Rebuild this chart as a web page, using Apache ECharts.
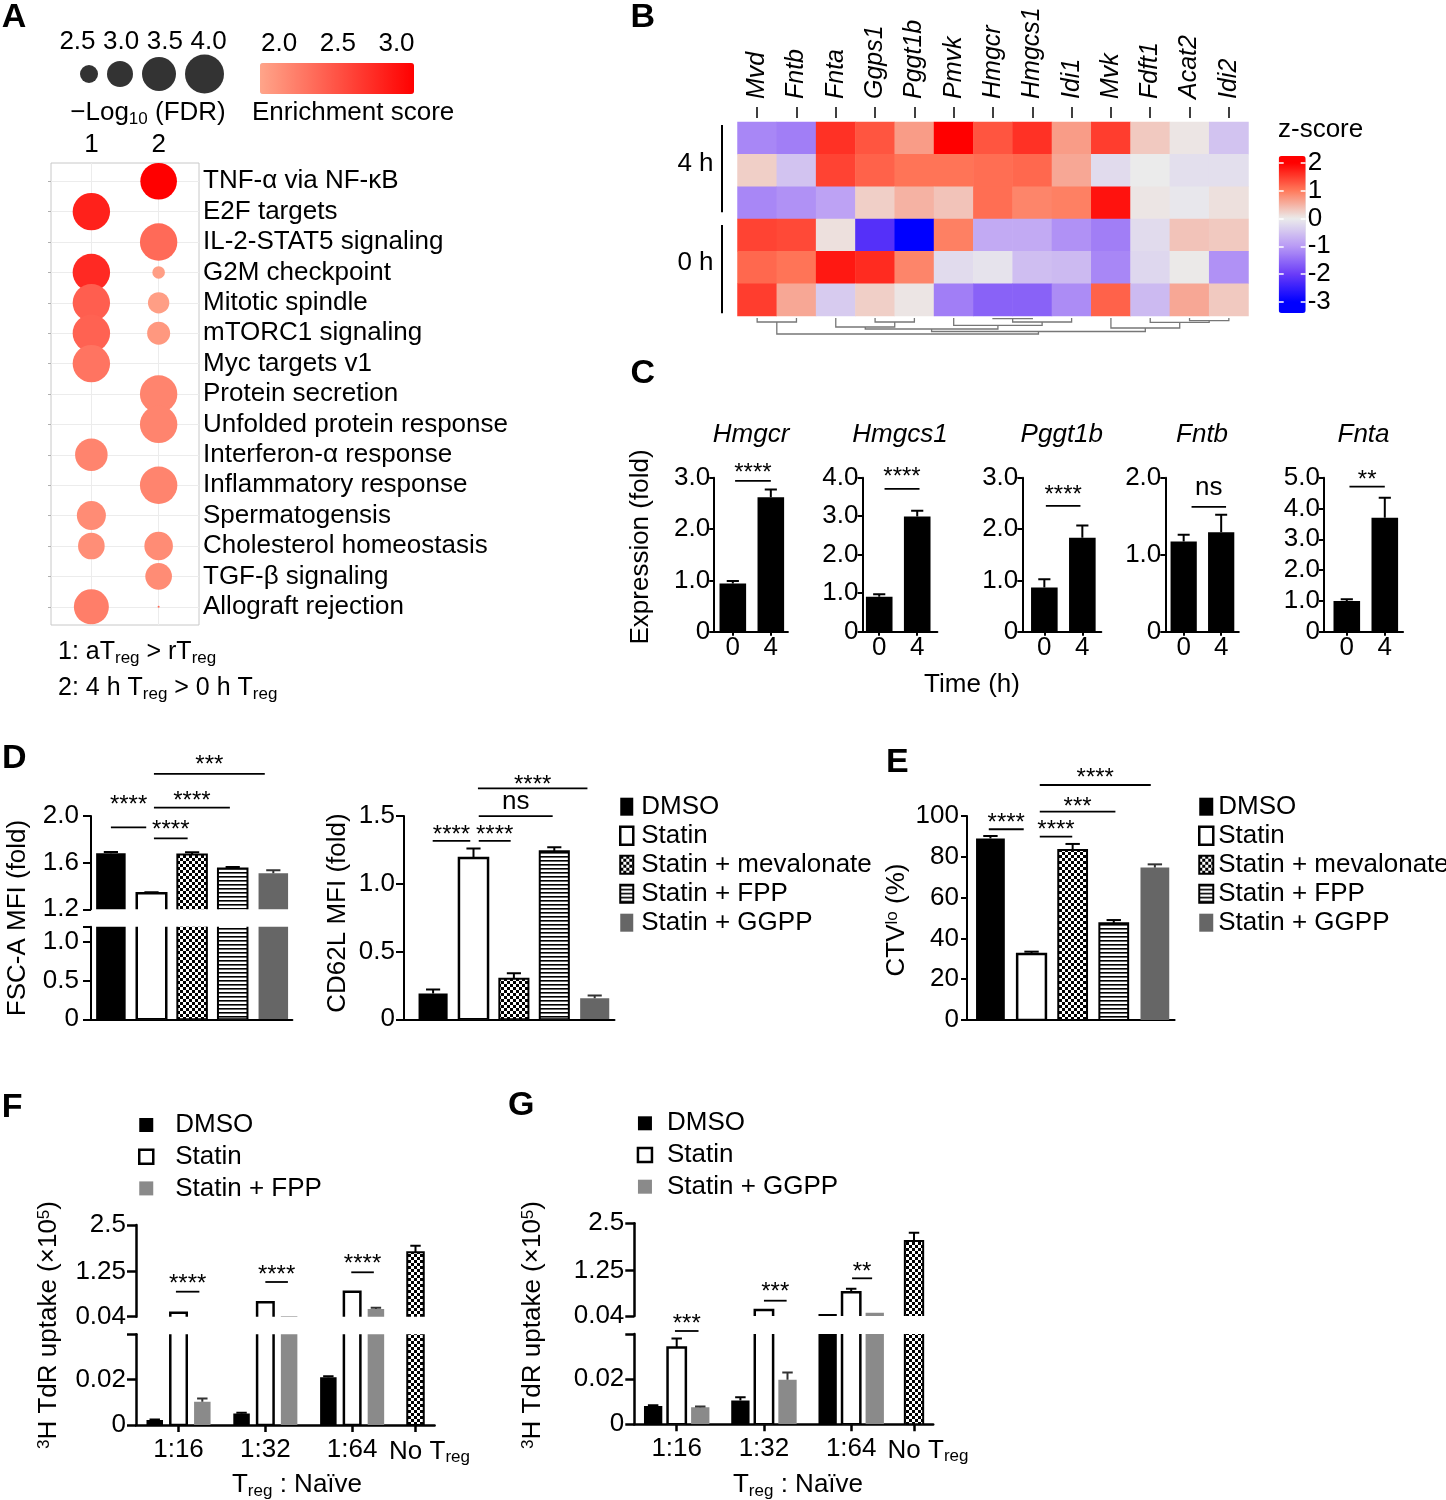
<!DOCTYPE html>
<html>
<head>
<meta charset="utf-8">
<title>Figure</title>
<script src="https://cdn.jsdelivr.net/npm/echarts@6.0.0/dist/echarts.min.js"></script>
<style>
html,body{margin:0;padding:0;background:#fff;}
#chart{width:1446px;height:1500px;}
</style>
</head>
<body>
<div id="chart"></div>
<script>
// ======================= DATA =======================
// Panel A – hallmark pathway enrichment (bubble plot)
const pathways = ['TNF-α via NF-κB','E2F targets','IL-2-STAT5 signaling','G2M checkpoint','Mitotic spindle','mTORC1 signaling','Myc targets v1','Protein secretion','Unfolded protein response','Interferon-α response','Inflammatory response','Spermatogensis','Cholesterol homeostasis','TGF-β signaling','Allograft rejection'];
const comparisons = ['1', '2'];
const negLogFdr1 = [null, 3.84, null, 3.84, 3.84, 3.84, 3.84, null, null, 3.41, null, 3.19, 3.04, null, 3.6];
const enrich1    = [null, 2.89, null, 2.82, 2.4, 2.37, 2.23, null, null, 2.1, null, 2.04, 2.02, null, 2.15];
const negLogFdr2 = [3.76, null, 3.84, 2.16, 2.71, 2.81, null, 3.84, 3.84, null, 3.84, null, 3.16, 3.04, 1.5];
const enrich2    = [3.15, null, 2.31, 1.89, 1.89, 1.94, null, 2.1, 2.1, null, 2.1, null, 2.04, 2.04, 2.3];
const fdrLegendValues = [2.5, 3.0, 3.5, 4.0];
const enrichTicks = [2.0, 2.5, 3.0];

// Panel B – z-score heatmap
const genes = ['Mvd','Fntb','Fnta','Ggps1','Pggt1b','Pmvk','Hmgcr','Hmgcs1','Idi1','Mvk','Fdft1','Acat2','Idi2'];
const sampleGroups = ['4 h', '0 h'];
const zRows = [
  [-1.2,-1.3, 1.6, 1.3, 0.7, 2.0, 1.3, 1.6, 0.7, 1.5, 0.3, 0.05,-0.5],
  [ 0.25,-0.5, 1.45, 1.2, 1.05, 1.05, 1.1, 1.15, 0.6,-0.2, 0.0,-0.15,-0.15],
  [-1.2,-1.1,-0.9, 0.25, 0.5, 0.35, 1.1, 0.9, 0.95, 1.85, 0.05,-0.05, 0.1],
  [ 1.45, 1.4, 0.1,-2.2,-3.0, 0.95,-0.8,-0.8,-1.1,-1.3,-0.2, 0.35, 0.3],
  [ 1.15, 1.05, 1.8, 1.65, 0.9,-0.2,-0.1,-0.55,-0.6,-1.2,-0.25, 0.02,-1.1],
  [ 1.5, 0.6,-0.4, 0.25, 0.05,-1.3,-1.6,-1.6,-1.15, 1.2,-0.6, 0.6, 0.3]
];
const zTicks = [-3, -2, -1, 0, 1, 2];
// column dendrogram: [childA, childB, height]; leaves 0..12, merged nodes numbered from 13
const dendroMerges = [[0,1,4],[3,4,4],[2,14,9],[6,7,0.7],[16,8,4],[5,17,7.3],[15,18,11],[11,12,2.7],[10,20,4.3],[9,21,10],[19,22,13.5],[13,23,16]];

// Panel C – qPCR
const cGenes = ['Hmgcr','Hmgcs1','Pggt1b','Fntb','Fnta'];
const cTimes = ['0', '4'];
const cMean0h = [0.94, 0.91, 0.86, 1.17, 1.00];
const cErr0h  = [0.05, 0.06, 0.16, 0.09, 0.05];
const cMean4h = [2.62, 2.99, 1.83, 1.29, 3.70];
const cErr4h  = [0.15, 0.15, 0.24, 0.23, 0.65];
const cYMax   = [3, 4, 3, 2, 5];
const cSigLabel = ['****', '****', '****', 'ns', '**'];

// Panels D / E
const treatments = ['DMSO', 'Statin', 'Statin + mevalonate', 'Statin + FPP', 'Statin + GGPP'];
const fscMean   = [1.68, 1.337, 1.67, 1.55, 1.51];
const fscErr    = [0.012, 0.01, 0.02, 0.012, 0.025];
const cd62lMean = [0.19, 1.19, 0.30, 1.24, 0.155];
const cd62lErr  = [0.03, 0.07, 0.04, 0.03, 0.02];
const ctvMean   = [89, 32.4, 83.3, 47.4, 74.7];
const ctvErr    = [1.2, 1.1, 3.0, 1.6, 1.6];
const dSig1 = ['****', '****', '****', '***'];
const dSig2 = ['****', '****', 'ns', '****'];
const eSig  = ['****', '****', '***', '****'];

// Panels F / G – suppression assay (3H TdR uptake, x10^5)
const ratios = ['1:16', '1:32', '1:64'];
const noTregLabel = 'No Treg';
const fDmso = [0.0022, 0.0051, 0.0211], fDmsoErr = [0.0002, 0.0003, 0.0004];
const fStatin = [0.147, 0.426, 0.71],   fStatinErr = [0, 0, 0];
const fFpp = [0.0102, 0.05, 0.247],     fFppErr = [0.0015, 0, 0.03];
const fNoTreg = 1.77, fNoTregErr = 0.17;
const gDmso = [0.0081, 0.0105, 0.093], gDmsoErr = [0.0003, 0.0015, 0];
const gStatin = [0.034, 0.2, 0.67],    gStatinErr = [0.004, 0, 0.09];
const gGgpp = [0.0075, 0.0197, 0.128], gGgppErr = [0.0004, 0.0033, 0];
const gNoTreg = 2.03, gNoTregErr = 0.22;
const fSig = ['****', '****', '****'];
const gSig = ['***', '***', '**'];

// ======================= STYLE / HELPERS =======================
const FONT = '"Liberation Sans", Arial, Helvetica, sans-serif';
const BLACK = '#000';

function mkPattern(kind) {
  const c = document.createElement('canvas');
  const g = c.getContext('2d');
  if (kind === 'checker') {
    c.width = 6; c.height = 6;
    g.fillStyle = '#fff'; g.fillRect(0, 0, 6, 6);
    g.fillStyle = '#000'; g.fillRect(0, 0, 3, 3); g.fillRect(3, 3, 3, 3);
  } else {
    c.width = 4; c.height = 4;
    g.fillStyle = '#fff'; g.fillRect(0, 0, 4, 4);
    g.fillStyle = '#000'; g.fillRect(0, 0, 4, 1.6);
  }
  return {image: c, repeat: 'repeat'};
}
const CHECKER = mkPattern('checker');
const STRIPES = mkPattern('stripes');
const STYLE_DE = {
  'DMSO': {fill: '#000'},
  'Statin': {fill: '#fff', stroke: '#000', lineWidth: 2.5},
  'Statin + mevalonate': {fill: CHECKER, stroke: '#000', lineWidth: 2},
  'Statin + FPP': {fill: STRIPES, stroke: '#000', lineWidth: 2},
  'Statin + GGPP': {fill: '#666666'}
};
const STYLE_FG = {
  'DMSO': {fill: '#000'},
  'Statin': {fill: '#fff', stroke: '#000', lineWidth: 2.5},
  'Statin + FPP': {fill: '#8a8a8a'},
  'Statin + GGPP': {fill: '#8a8a8a'},
  'No Treg': {fill: CHECKER, stroke: '#000', lineWidth: 2}
};
const RICH = {
  m:   {fontSize: 26, fontFamily: FONT, color: BLACK, fill: BLACK},
  nt:  {fontSize: 26, fontFamily: FONT, color: BLACK, fill: BLACK, padding: [0, 0, 0, 28]},
  sub: {fontSize: 17, fontFamily: FONT, color: BLACK, fill: BLACK, padding: [12, 0, 0, 0]},
  sup: {fontSize: 17, fontFamily: FONT, color: BLACK, fill: BLACK, padding: [0, 0, 10, 0]}
};
const RICH25 = {
  m:   {fontSize: 25, fontFamily: FONT, color: BLACK, fill: BLACK},
  sub: {fontSize: 17, fontFamily: FONT, color: BLACK, fill: BLACK, padding: [12, 0, 0, 0]}
};
// bubble size scale (−log10 FDR -> radius px), piecewise linear as in the size legend
const SIZE_SCALE = [[2.5, 9], [3.0, 13], [3.5, 17], [4.0, 19.5]];
function bubbleRadius(f) {
  const s = SIZE_SCALE;
  let k = 0;
  while (k < s.length - 2 && f > s[k + 1][0]) k++;
  const a = s[k], b = s[k + 1];
  return Math.max(0.8, a[1] + (b[1] - a[1]) * (f - a[0]) / (b[0] - a[0]));
}
const bubbleDiameter = f => 2 * bubbleRadius(f);

const grids = [], xAxes = [], yAxes = [], series = [], graphics = [], legends = [], visualMaps = [];
function addGrid(g) { grids.push(Object.assign({containLabel: false, outerBoundsMode: 'none', show: false}, g)); return grids.length - 1; }
function addX(a) { xAxes.push(a); return xAxes.length - 1; }
function addY(a) { yAxes.push(a); return yAxes.length - 1; }
function addS(s) { series.push(s); return series.length - 1; }

function axis(type, gi, o) {
  o = o || {};
  const lw = o.lw || 2;
  const a = {
    type: type, gridIndex: gi, show: o.show !== false, position: o.position, inverse: !!o.inverse,
    offset: o.offset || 0, z: o.z || 0, silent: true,
    axisLine: {show: !!o.line, onZero: false, lineStyle: {color: BLACK, width: lw}},
    axisTick: {show: !!o.showTicks, length: o.tickLen || 6, inside: !!o.inside, alignWithLabel: !!o.align,
               lineStyle: {color: o.tickColor || BLACK, width: o.tickW || lw}},
    axisLabel: {show: !!o.showLabels, margin: o.margin == null ? 6 : o.margin, color: BLACK,
                fontSize: o.fs || 26, fontFamily: FONT, fontStyle: o.italic ? 'italic' : 'normal', rotate: o.rotate || 0},
    splitLine: {show: !!o.split, lineStyle: {color: '#ececec', width: 1}}
  };
  if (type === 'value') { a.min = o.min; a.max = o.max; }
  if (type === 'category') { a.axisLabel.interval = 0; }
  if (o.data) a.data = o.data;
  if (o.tickVals) a.axisTick.customValues = o.tickVals;
  if (o.labelVals) a.axisLabel.customValues = o.labelVals;
  if (o.fmt) a.axisLabel.formatter = o.fmt;
  if (o.rich) a.axisLabel.rich = o.rich;
  return a;
}

function gText(x, y, text, o) {
  o = o || {};
  const st = {text: text, fill: BLACK, fontSize: o.fs || 26, fontFamily: FONT,
              fontWeight: o.bold ? 'bold' : 'normal', fontStyle: o.italic ? 'italic' : 'normal',
              align: o.align || 'center', verticalAlign: 'middle', textAlign: o.align || 'center', textVerticalAlign: 'middle'};
  if (o.rich) st.rich = o.rich;
  graphics.push({type: 'text', x: x, y: y, rotation: o.rot || 0, silent: true, z: 20, style: st});
}
function gLine(x1, y1, x2, y2, w, color) {
  graphics.push({type: 'line', silent: true, z: 20, shape: {x1: x1, y1: y1, x2: x2, y2: y2}, style: {stroke: color || BLACK, lineWidth: w || 2}});
}
function legendStyle(s) {
  return {color: s.fill, borderColor: s.stroke || 'rgba(0,0,0,0)', borderWidth: s.lineWidth || 0, opacity: 1};
}

function barRender(widthU, st, segMin) {
  return function (params, api) {
    const x = api.value(0), y = api.value(1);
    if (y <= segMin) return null;            // bar does not reach this axis segment
    const a = api.coord([x - widthU / 2, y]);
    const b = api.coord([x + widthU / 2, 0]);
    const style = {fill: st.fill};
    if (st.stroke) { style.stroke = st.stroke; style.lineWidth = st.lineWidth; } else { style.stroke = null; style.lineWidth = 0; }
    return {type: 'rect', shape: {x: a[0], y: a[1], width: b[0] - a[0], height: b[1] - a[1]}, style: style};
  };
}
function errRender(capU, color, w) {
  return function (params, api) {
    const x = api.value(0), y = api.value(1), e = api.value(2);
    const p0 = api.coord([x, y]), p1 = api.coord([x, y + e]);
    const hw = Math.abs(api.size([capU, 0])[0]) / 2;
    return {type: 'group', children: [
      {type: 'line', shape: {x1: p0[0], y1: p0[1], x2: p1[0], y2: p1[1]}, style: {stroke: color, lineWidth: w}},
      {type: 'line', shape: {x1: p1[0] - hw, y1: p1[1], x2: p1[0] + hw, y2: p1[1]}, style: {stroke: color, lineWidth: w}}
    ]};
  };
}
// significance annotation: [x1, x2, lineY, textY, label]
function sigSeries(xi, yi, items) {
  return {
    type: 'custom', xAxisIndex: xi, yAxisIndex: yi, clip: false, silent: true, z: 6,
    data: items.map(it => [it[0], it[2], it[1], it[3]]),
    renderItem: function (params, api) {
      const it = items[params.dataIndex];
      const a = api.coord([it[0], it[2]]), b = api.coord([it[1], it[2]]);
      const t = api.coord([(it[0] + it[1]) / 2, it[3]]);
      const star = it[4].indexOf('*') >= 0;
      const fs = star ? 24 : 26;
      return {type: 'group', children: [
        {type: 'line', shape: {x1: a[0], y1: a[1], x2: b[0], y2: b[1]}, style: {stroke: BLACK, lineWidth: 1.8}},
        {type: 'text', x: t[0], y: t[1] + (star ? 5.5 : -2), style: {text: it[4], fill: BLACK, fontSize: fs, fontFamily: FONT,
          align: 'center', verticalAlign: 'middle', textAlign: 'center', textVerticalAlign: 'middle'}}
      ]};
    }
  };
}
// generic bar panel (optionally with broken y-axis segments)
function barPanel(p) {
  const out = [];
  p.segs.forEach((s, si) => {
    const g = addGrid({left: p.left, top: s.top, width: p.width, height: s.h});
    const xi = addX(axis('value', g, {min: p.xmin, max: p.xmax, show: !!s.showX, line: true, lw: p.lw,
      tickVals: p.xTicks, showTicks: !!p.xTicks, tickLen: p.xTickLen || 6, labelVals: p.xTicks, showLabels: !!p.xTicks,
      fmt: p.xFmt, rich: p.xRich, margin: p.xMargin}));
    const yi = addY(axis('value', g, {min: s.min, max: s.max, line: true, lw: p.lw, tickVals: s.tickVals, showTicks: true,
      tickLen: p.yTick, labelVals: s.labelVals, showLabels: true, fmt: s.fmt, margin: p.yMargin}));
    p.series.forEach(sr => {
      addS({type: 'custom', name: sr.name, xAxisIndex: xi, yAxisIndex: yi, clip: true, silent: true, z: 2,
        itemStyle: legendStyle(sr.style), data: sr.pts.map(q => [q[0], q[1]]), renderItem: barRender(p.barW, sr.style, s.min)});
      const ep = sr.pts.filter(q => q[2] > 0 && q[1] > s.min);
      if (ep.length) addS({type: 'custom', xAxisIndex: xi, yAxisIndex: yi, clip: true, silent: true, z: 3,
        data: ep, renderItem: errRender(p.capW, sr.errColor || BLACK, p.errW || 2)});
    });
    if (p.sig && p.sig.seg === si) addS(sigSeries(xi, yi, p.sig.items));
    out.push({g: g, xi: xi, yi: yi});
  });
  return out;
}
function addLegend(names, styles, o) {
  legends.push({show: true, orient: 'vertical', left: o.left, top: o.top, itemWidth: o.w, itemHeight: o.h, itemGap: o.gap,
    selectedMode: false, icon: 'rect', padding: 0,
    textStyle: {fontSize: 26, color: BLACK, fontFamily: FONT, padding: [0, 0, 0, o.tp]},
    data: names.map(n => ({name: n, icon: 'rect', itemStyle: legendStyle(styles[n])}))});
}
const fmt1 = v => (v === 0 ? '0' : v.toFixed(1));

// ======================= PANEL A =======================
const rowIdx = pathways.map((_, i) => i);
const gA = addGrid({left: 51, top: 163, width: 148, height: 462, show: true, borderColor: '#c8c8c8', borderWidth: 1});
const xA = addX(axis('value', gA, {min: 0.4, max: 2.6, position: 'top', tickVals: [1, 2], labelVals: [1, 2], showLabels: true,
  margin: 5, split: true, fmt: v => comparisons[Math.round(v) - 1]}));
const yA = addY(axis('value', gA, {min: -0.6, max: 14.6, inverse: true, position: 'right', tickVals: rowIdx, labelVals: rowIdx,
  showLabels: true, margin: 4, split: true, fmt: v => pathways[Math.round(v)]}));
addY(axis('value', gA, {min: -0.6, max: 14.6, inverse: true, position: 'left', tickVals: rowIdx, showTicks: true, tickLen: 3, tickColor: '#b0b0b0', tickW: 1}));
const bubbleData = [];
pathways.forEach((p, i) => {
  if (negLogFdr1[i] != null) bubbleData.push([1, i, negLogFdr1[i], enrich1[i]]);
  if (negLogFdr2[i] != null) bubbleData.push([2, i, negLogFdr2[i], enrich2[i]]);
});
const sBubble = addS({type: 'scatter', name: 'pathways', xAxisIndex: xA, yAxisIndex: yA, data: bubbleData,
  symbolSize: v => bubbleDiameter(v[2]), itemStyle: {opacity: 1}, z: 3, silent: true});

// size legend: labels on an even category axis, circles packed side by side from their radii
const gSL = addGrid({left: 55.6, top: 55, width: 174.8, height: 38});
addX(axis('category', gSL, {data: fdrLegendValues.map(v => v.toFixed(1)), position: 'top', showLabels: true, margin: 0}));
const xSLv = addX(axis('value', gSL, {min: 0, max: 174.8, show: false}));
const ySL = addY(axis('value', gSL, {min: 0, max: 2, show: false}));
const legendRadii = fdrLegendValues.map(bubbleRadius);
const legendCenters = [];
legendRadii.forEach((r, i) => legendCenters.push(i === 0 ? 33.4 : legendCenters[i - 1] + legendRadii[i - 1] + 9 + r));
addS({type: 'scatter', xAxisIndex: xSLv, yAxisIndex: ySL, data: fdrLegendValues.map((v, i) => [legendCenters[i], 1, v]),
  symbolSize: v => bubbleDiameter(v[2]), itemStyle: {color: BLACK}, silent: true});
// enrichment colour bar (labels via a helper axis)
const gEL = addGrid({left: 260, top: 63, width: 154, height: 31});
addX(axis('value', gEL, {min: 1.838, max: 3.149, position: 'top', labelVals: enrichTicks, showLabels: true, margin: 6, fmt: v => v.toFixed(1)}));
addY(axis('value', gEL, {min: 0, max: 1, show: false}));
visualMaps.push({type: 'continuous', seriesIndex: sBubble, dimension: 3, min: 1.838, max: 3.149, orient: 'horizontal',
  left: 260, top: 63, itemWidth: 31, itemHeight: 154, calculable: false, hoverLink: false, padding: 0,
  inRange: {color: ['#ffa58a', '#ff0000']}});
gText(148, 113, '{m|−Log}{sub|10}{m| (FDR)}', {rich: RICH});
gText(252, 113, 'Enrichment score', {align: 'left'});
gText(58, 652, '{m|1: aT}{sub|reg}{m| > rT}{sub|reg}', {align: 'left', rich: RICH25});
gText(58, 688, '{m|2: 4 h T}{sub|reg}{m| > 0 h T}{sub|reg}', {align: 'left', rich: RICH25});

// ======================= PANEL B =======================
const gB = addGrid({left: 737.5, top: 122, width: 511, height: 194});
const xB = addX(axis('category', gB, {data: genes, position: 'top', offset: 4, showTicks: true, align: true, tickLen: 11, tickW: 1.5,
  showLabels: true, rotate: -90, italic: true, fs: 25, margin: 19}));
const yB = addY(axis('category', gB, {data: zRows.map((_, i) => 'r' + i), inverse: true, show: false}));
const hmData = [];
zRows.forEach((row, r) => row.forEach((z, c) => hmData.push([c, r, z])));
const sHM = addS({type: 'heatmap', xAxisIndex: xB, yAxisIndex: yB, data: hmData, silent: true, itemStyle: {borderWidth: 0}, emphasis: {disabled: true}});
const zAnchors = [[-3, [0, 0, 255]], [-2, [106, 60, 248]], [-1, [184, 154, 245]], [0, [235, 235, 235]], [1, [255, 122, 92]], [2, [255, 0, 0]]];
function zColor(v) {
  if (v <= zAnchors[0][0]) v = zAnchors[0][0];
  if (v >= zAnchors[zAnchors.length - 1][0]) v = zAnchors[zAnchors.length - 1][0];
  for (let k = 0; k < zAnchors.length - 1; k++) {
    const a = zAnchors[k], b = zAnchors[k + 1];
    if (v >= a[0] && v <= b[0]) {
      const t = (v - a[0]) / (b[0] - a[0]);
      const c = a[1].map((ch, j) => Math.round(ch + (b[1][j] - ch) * t));
      return 'rgb(' + c.join(',') + ')';
    }
  }
  return '#ebebeb';
}
const zMin = -3.4, zMax = 2.25, zStops = [];
for (let k = 0; k <= 113; k++) zStops.push(zColor(zMin + (zMax - zMin) * k / 113));
visualMaps.push({type: 'continuous', seriesIndex: sHM, dimension: 2, min: zMin, max: zMax, orient: 'vertical',
  left: 1278.7, top: 156, itemWidth: 27, itemHeight: 157, calculable: false, hoverLink: false, padding: 0,
  inRange: {color: zStops}});
const gCB = addGrid({left: 1278.7, top: 156, width: 27, height: 157});
addX(axis('value', gCB, {min: 0, max: 1, show: false}));
addY(axis('value', gCB, {min: zMin, max: zMax, position: 'right', z: 10, tickVals: zTicks, showTicks: true, inside: true, tickLen: 5,
  tickColor: '#fff', tickW: 1.5, labelVals: zTicks, showLabels: true, margin: 2, fmt: v => String(v)}));
addY(axis('value', gCB, {min: zMin, max: zMax, position: 'left', z: 10, tickVals: zTicks, showTicks: true, inside: true, tickLen: 5,
  tickColor: '#fff', tickW: 1.5}));
gText(1278, 130, 'z-score', {align: 'left'});
// dendrogram
const gDn = addGrid({left: 737.5, top: 318, width: 511, height: 17});
const xDn = addX(axis('value', gDn, {min: -0.5, max: genes.length - 0.5, show: false}));
const yDn = addY(axis('value', gDn, {min: 0, max: 17, inverse: true, show: false}));
const nodeX = genes.map((_, i) => i), nodeH = genes.map(() => 0);
dendroMerges.forEach(m => { nodeX.push((nodeX[m[0]] + nodeX[m[1]]) / 2); nodeH.push(m[2]); });
addS({type: 'custom', xAxisIndex: xDn, yAxisIndex: yDn, clip: false, silent: true, data: dendroMerges.map(m => [nodeX[m[0]], m[2], nodeX[m[1]]]),
  renderItem: function (params, api) {
    const m = dendroMerges[params.dataIndex];
    const pts = [api.coord([nodeX[m[0]], nodeH[m[0]]]), api.coord([nodeX[m[0]], m[2]]), api.coord([nodeX[m[1]], m[2]]), api.coord([nodeX[m[1]], nodeH[m[1]]])];
    return {type: 'polyline', shape: {points: pts}, style: {stroke: '#777', lineWidth: 1.3, fill: null}};
  }});
// sample group labels and brackets
gText(695.5, 164, sampleGroups[0]);
gText(695.5, 263, sampleGroups[1]);
gLine(722, 125, 722, 212.3, 2);
gLine(722, 225, 722, 313.3, 2);

// ======================= PANEL C =======================
const cLayout = [
  {left: 714.2, xmin: -0.49, xmax: 1.45, step: 38},
  {left: 862.5, xmin: -0.44, xmax: 1.53, step: 38},
  {left: 1022.3, xmin: -0.58, xmax: 1.50, step: 38},
  {left: 1165.3, xmin: -0.49, xmax: 1.47, step: 37.5},
  {left: 1324, xmin: -0.60, xmax: 1.48, step: 38}
];
const cSigPos = [[0.06, 1.0, 2.94, 3.19], [0.14, 1.06, 3.71, 4.16], [0.04, 0.95, 2.45, 2.76], [0.21, 1.13, 1.62, 1.84], [0.07, 1.0, 4.71, 5.09]];
cGenes.forEach((gene, i) => {
  const L = cLayout[i];
  const width = (L.xmax - L.xmin) * L.step;
  const yt = []; for (let v = 0; v <= cYMax[i]; v++) yt.push(v);
  barPanel({left: L.left, width: width, xmin: L.xmin, xmax: L.xmax, lw: 2, barW: 0.70, capW: 0.32, yTick: 5, yMargin: 4,
    xTicks: [0, 1], xTickLen: 4, xMargin: 3, xFmt: v => cTimes[Math.round(v)],
    segs: [{top: 477.7, h: 154, min: 0, max: cYMax[i], tickVals: yt, labelVals: yt, fmt: fmt1, showX: true}],
    series: [{name: gene, style: {fill: '#000'}, pts: [[0, cMean0h[i], cErr0h[i]], [1, cMean4h[i], cErr4h[i]]]}],
    sig: {seg: 0, items: [cSigPos[i].concat([cSigLabel[i]])]}});
  gText(L.left + width / 2, 435, gene, {italic: true});
});
gText(641, 547, 'Expression (fold)', {rot: Math.PI / 2});
gText(972, 685, 'Time (h)');

// ======================= PANEL D =======================
const dPts = (mean, err) => treatments.map((t, k) => ({name: t, style: STYLE_DE[t], pts: [[k, mean[k], err[k]]],
  errColor: t === 'Statin + GGPP' ? '#333' : BLACK}));
barPanel({left: 91, width: 201.4, xmin: -0.49, xmax: 4.47, lw: 2, barW: 0.727, capW: 0.35, yTick: 8, yMargin: 12,
  segs: [
    {top: 816, h: 93.3, min: 1.2, max: 2.0, tickVals: [1.2, 1.6, 2.0], labelVals: [1.2, 1.6, 2.0], fmt: fmt1, showX: false},
    {top: 926.7, h: 92.6, min: 0, max: 1.2, tickVals: [0, 0.5, 1.0, 1.2], labelVals: [0, 0.5, 1.0], fmt: fmt1, showX: true}
  ],
  series: dPts(fscMean, fscErr),
  sig: {seg: 0, items: [[0, 0.87, 1.903, 2.137, dSig1[0]], [1.06, 1.89, 1.808, 1.922, dSig1[1]], [1.06, 2.93, 2.071, 2.171, dSig1[2]], [1.06, 3.79, 2.362, 2.479, dSig1[3]]]}});
barPanel({left: 404, width: 210.5, xmin: -0.72, xmax: 4.49, lw: 2, barW: 0.72, capW: 0.35, yTick: 8, yMargin: 9,
  segs: [{top: 816, h: 203.3, min: 0, max: 1.5, tickVals: [0, 0.5, 1.0, 1.5], labelVals: [0, 0.5, 1.0, 1.5], fmt: fmt1, showX: true}],
  series: dPts(cd62lMean, cd62lErr),
  sig: {seg: 0, items: [[-0.01, 0.92, 1.317, 1.401, dSig2[0]], [1.13, 1.92, 1.317, 1.401, dSig2[1]], [1.13, 2.96, 1.499, 1.593, dSig2[2]], [1.11, 3.82, 1.704, 1.765, dSig2[3]]]}});
gText(18, 918, 'FSC-A MFI (fold)', {rot: Math.PI / 2});
gText(338, 913, 'CD62L MFI (fold)', {rot: Math.PI / 2});
addLegend(treatments, STYLE_DE, {left: 619, top: 793.7, w: 13, h: 18, gap: 3, tp: 3});

// ======================= PANEL E =======================
barPanel({left: 967, width: 207.6, xmin: -0.57, xmax: 4.48, lw: 2, barW: 0.70, capW: 0.35, yTick: 6, yMargin: 8,
  segs: [{top: 816, h: 204, min: 0, max: 100, tickVals: [0, 20, 40, 60, 80, 100], labelVals: [0, 20, 40, 60, 80, 100], fmt: v => String(v), showX: true}],
  series: dPts(ctvMean, ctvErr),
  sig: {seg: 0, items: [[-0.04, 0.81, 93.5, 98.9, eSig[0]], [1.2, 1.99, 89.9, 95.6, eSig[1]], [1.2, 3.04, 102.1, 107, eSig[2]], [1.2, 3.9, 115.2, 120.9, eSig[3]]]}});
gText(897, 920, '{m|CTV}{sup|lo}{m| (%)}', {rot: Math.PI / 2, rich: RICH});
addLegend(treatments, STYLE_DE, {left: 1198, top: 793.7, w: 14, h: 18, gap: 3, tp: 0});

// ======================= PANELS F / G =======================
function suppressionPanel(L, dmso, dmsoE, statin, statinE, add, addE, addName, noT, noTE, sigLabels, sigPos) {
  const tickVals = [0, 1, 2, L.noTregX];
  const grp = (vals, errs, k) => ratios.map((r, g) => [g + (k - 1) * L.off, vals[g], errs[g]]);
  barPanel({left: L.left, width: L.width, xmin: L.xmin, xmax: L.xmax, lw: 2.5, barW: L.barW, capW: 0.12, yTick: 9, yMargin: 10,
    xTicks: tickVals, xTickLen: 7, xMargin: 12, xRich: RICH,
    xFmt: v => { const k = tickVals.findIndex(t => Math.abs(t - v) < 1e-6); return k === 3 ? '{nt|No T}{sub|reg}' : '{m|' + ratios[k] + '}'; },
    segs: [
      {top: L.upperTop, h: L.upperH, min: 0.04, max: 2.5, tickVals: [0.04, 1.25, 2.5], labelVals: [0.04, 1.25, 2.5], fmt: v => String(v), showX: false},
      {top: L.lowerTop, h: L.lowerH, min: 0, max: 0.04, tickVals: [0, 0.02, 0.04], labelVals: [0, 0.02], fmt: v => String(v), showX: true}
    ],
    series: [
      {name: 'DMSO', style: STYLE_FG['DMSO'], pts: grp(dmso, dmsoE, 0)},
      {name: 'Statin', style: STYLE_FG['Statin'], pts: grp(statin, statinE, 1)},
      {name: addName, style: STYLE_FG[addName], pts: grp(add, addE, 2), errColor: '#333'},
      {name: noTregLabel, style: STYLE_FG['No Treg'], pts: [[L.noTregX, noT, noTE]]}
    ],
    sig: {seg: 0, items: sigPos.map((s, k) => s.concat([sigLabels[k]]))}});
}
suppressionPanel({left: 136, width: 298.6, xmin: -0.49, xmax: 2.95, off: 0.274, barW: 0.19, noTregX: 2.73,
  upperTop: 1225, upperH: 91.7, lowerTop: 1334.3, lowerH: 90.7},
  fDmso, fDmsoErr, fStatin, fStatinErr, fFpp, fFppErr, 'Statin + FPP', fNoTreg, fNoTregErr, fSig,
  [[-0.03, 0.24, 0.711, 1.043], [1.0, 1.26, 0.971, 1.293], [1.99, 2.25, 1.231, 1.58]]);
suppressionPanel({left: 634.3, width: 298.9, xmin: -0.486, xmax: 2.94, off: 0.27, barW: 0.21, noTregX: 2.72,
  upperTop: 1223.3, upperH: 92.7, lowerTop: 1334, lowerH: 90.3},
  gDmso, gDmsoErr, gStatin, gStatinErr, gGgpp, gGgppErr, 'Statin + GGPP', gNoTreg, gNoTregErr, gSig,
  [[-0.02, 0.25, -0.358, -0.048], [1.0, 1.26, 0.446, 0.802], [2.01, 2.24, 1.04, 1.348]]);
gText(49, 1325, '{sup|3}{m|H TdR uptake (×10}{sup|5}{m|)}', {rot: Math.PI / 2, rich: RICH});
gText(533, 1325, '{sup|3}{m|H TdR uptake (×10}{sup|5}{m|)}', {rot: Math.PI / 2, rich: RICH});
gText(297, 1485, '{m|T}{sub|reg}{m| : Naïve}', {rich: RICH});
gText(798, 1485, '{m|T}{sub|reg}{m| : Naïve}', {rich: RICH});
addLegend(['DMSO', 'Statin', 'Statin + FPP'], STYLE_FG, {left: 138, top: 1112, w: 14, h: 14, gap: 5.7, tp: 17});
addLegend(['DMSO', 'Statin', 'Statin + GGPP'], STYLE_FG, {left: 636.7, top: 1110.3, w: 14, h: 14, gap: 5.7, tp: 10});

// ======================= PANEL LETTERS =======================
[['A', 1.7, 18], ['B', 630.6, 17.5], ['C', 630.6, 374], ['D', 2, 759], ['E', 886, 763], ['F', 1.7, 1107.5], ['G', 508, 1105.5]]
  .forEach(l => gText(l[1], l[2], l[0], {bold: true, fs: 34, align: 'left'}));

// ======================= RENDER =======================
const chart = echarts.init(document.getElementById('chart'), null, {renderer: 'canvas'});
chart.setOption({
  animation: false, backgroundColor: '#fff', textStyle: {fontFamily: FONT},
  grid: grids, xAxis: xAxes, yAxis: yAxes, series: series,
  visualMap: visualMaps, legend: legends, graphic: {elements: graphics}
});
</script>
</body>
</html>
